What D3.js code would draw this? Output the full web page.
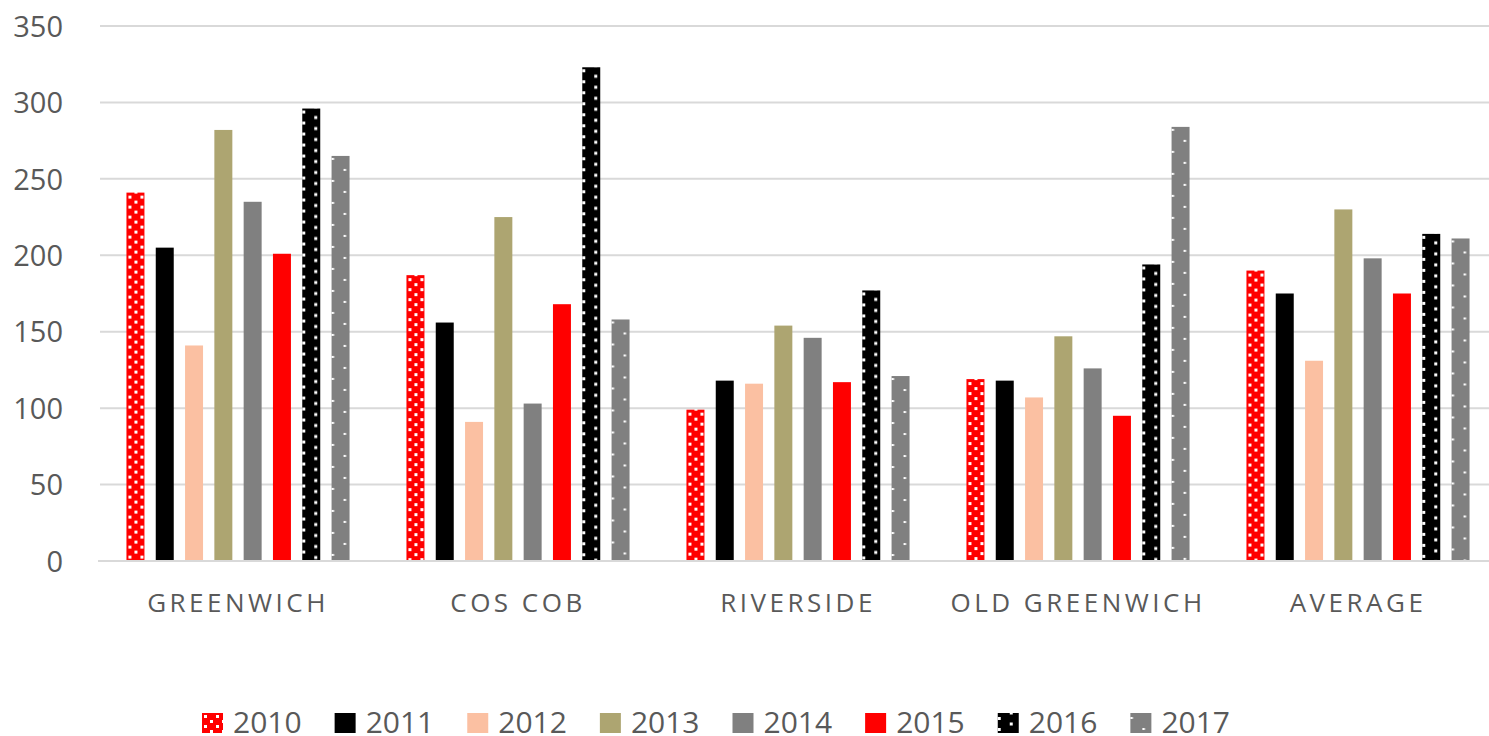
<!DOCTYPE html>
<html>
<head>
<meta charset="utf-8">
<script src="https://cdn.jsdelivr.net/npm/d3@7/dist/d3.min.js"></script>
<style>
  html, body { margin: 0; padding: 0; background: #fff; }
  svg { display: block; }
  text { font-family: "Open Sans", sans-serif; fill: #595959; }
</style>
</head>
<body>
<svg id="chart" width="1489" height="736"></svg>
<script>
const categories = ["GREENWICH", "COS COB", "RIVERSIDE", "OLD GREENWICH", "AVERAGE"];
const years = ["2010", "2011", "2012", "2013", "2014", "2015", "2016", "2017"];
const v2010 = [241, 187, 99, 119, 190];
const v2011 = [205, 156, 118, 118, 175];
const v2012 = [141, 91, 116, 107, 131];
const v2013 = [282, 225, 154, 147, 230];
const v2014 = [235, 103, 146, 126, 198];
const v2015 = [201, 168, 117, 95, 175];
const v2016 = [296, 323, 177, 194, 214];
const v2017 = [265, 158, 121, 284, 211];
const yTicks = [0, 50, 100, 150, 200, 250, 300, 350];

const seriesValues = [v2010, v2011, v2012, v2013, v2014, v2015, v2016, v2017];
const colors = ["#FF0000", "#000000", "#FBC0A2", "#ADA571", "#808080", "#FF0000", "#000000", "#808080"];
// pattern spec: [tileW, tileH, dotW, dotH] or null
const patterns = [[12, 10, 3, 3], null, null, null, null, null, [24, 11, 3, 3], [24, 22, 2.5, 2]];

const svg = d3.select("#chart");
const defs = svg.append("defs");

const x0 = d3.scaleBand().domain(categories).range([98, 1498]).padding(0);
const x1 = d3.scaleBand().domain(years).range([0, x0.bandwidth()]).paddingInner(0.386).paddingOuter(0.971);
const y = d3.scaleLinear().domain([0, 350]).range([561, 26]);

// gridlines
svg.append("g").selectAll("line").data(yTicks.filter(d => d > 0)).join("line")
  .attr("x1", 100).attr("x2", 1489)
  .attr("y1", d => y(d)).attr("y2", d => y(d))
  .attr("stroke", "#d9d9d9").attr("stroke-width", 2);

// y labels
const yAxis = d3.axisLeft(y).tickValues(yTicks).tickSize(0).tickPadding(0);
const yg = svg.append("g").attr("transform", "translate(63,0)").call(yAxis);
yg.select(".domain").remove();
yg.selectAll("text").style("font-size", "29px").attr("fill", "#595959")
  .style("font-family", "'Open Sans', sans-serif").attr("dy", "0.35em");

function makePattern(id, i, ox, oy) {
  const p = patterns[i];
  const [w, h, dw, dh] = p;
  const pat = defs.append("pattern").attr("id", id)
    .attr("patternUnits", "userSpaceOnUse")
    .attr("x", ox).attr("y", oy).attr("width", w).attr("height", h);
  pat.append("rect").attr("width", w).attr("height", h).attr("fill", colors[i]);
  pat.append("rect").attr("x", 0).attr("y", 0).attr("width", dw).attr("height", dh).attr("fill", "#fff");
  pat.append("rect").attr("x", w / 2).attr("y", h / 2).attr("width", dw).attr("height", dh).attr("fill", "#fff");
}

// bars
const barData = [];
categories.forEach((c, ci) => {
  years.forEach((yr, si) => {
    barData.push({ c, ci, yr, si, v: seriesValues[si][ci] });
  });
});

barData.forEach(d => {
  if (patterns[d.si]) {
    const bx = x0(d.c) + x1(d.yr);
    const offs = d.si === 0 ? [2, 3] : [0, 2];
    makePattern(`p${d.si}_${d.ci}`, d.si, bx + offs[0], y(d.v) + offs[1]);
  }
});

svg.append("g").selectAll("rect").data(barData).join("rect")
  .attr("x", d => x0(d.c) + x1(d.yr))
  .attr("width", x1.bandwidth())
  .attr("y", d => y(d.v))
  .attr("height", d => y(0) - y(d.v))
  .attr("fill", d => patterns[d.si] ? `url(#p${d.si}_${d.ci})` : colors[d.si]);

// axis line
svg.append("line").attr("x1", 98).attr("x2", 1489).attr("y1", y(0)).attr("y2", y(0))
  .attr("stroke", "#d9d9d9").attr("stroke-width", 2);

// category labels
const xAxis = d3.axisBottom(x0).tickSize(0).tickPadding(0);
const xg = svg.append("g").attr("transform", "translate(0,0)").call(xAxis);
xg.select(".domain").remove();
xg.selectAll("text").attr("y", 612).attr("dy", 0)
  .style("font-size", "26px").style("letter-spacing", "3.5px")
  .style("font-family", "'Open Sans', sans-serif").attr("fill", "#595959");

// legend
const lg = svg.append("g");
let lx = 202;
years.forEach((yr, i) => {
  if (patterns[i]) makePattern(`lp${i}`, i, lx + (i === 0 ? 2 : 0), 713 + (i === 0 ? 2 : 4));
  lg.append("rect").attr("x", lx).attr("y", 713).attr("width", 21).attr("height", 20)
    .attr("fill", patterns[i] ? `url(#lp${i})` : colors[i]);
  const t = lg.append("text").attr("x", lx + 31).attr("y", 733).text(yr)
    .style("font-size", "30px");
  const tw = t.node().getComputedTextLength();
  lx += 31 + tw + 33;
});
</script>
</body>
</html>
